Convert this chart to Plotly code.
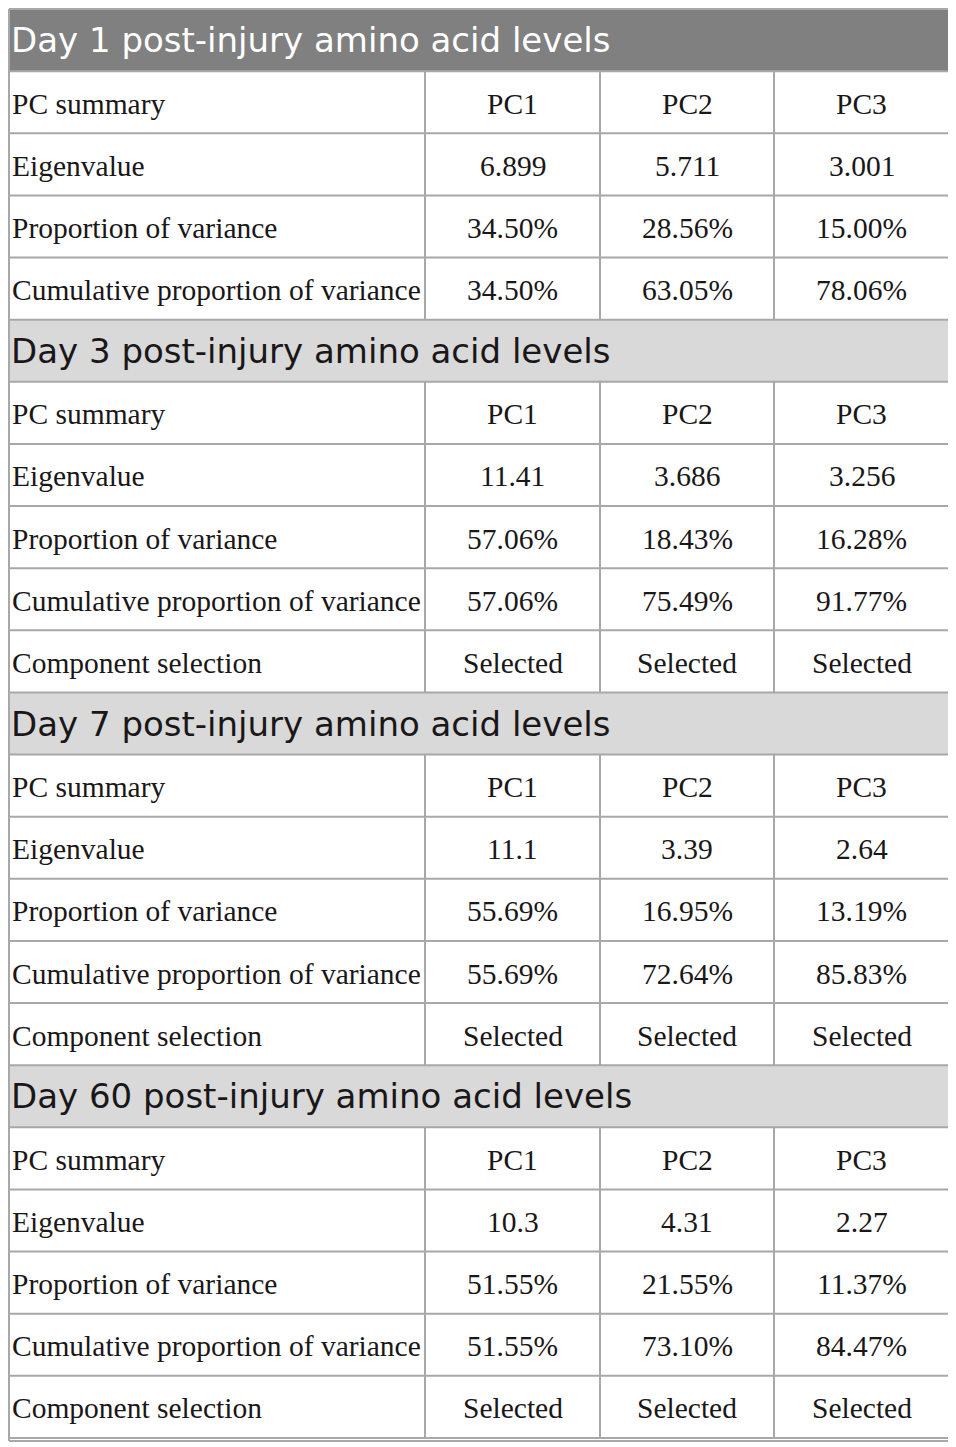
import plotly.graph_objects as go

# section titles and row labels
sections = [
    "Day 1 post-injury amino acid levels",
    "Day 3 post-injury amino acid levels",
    "Day 7 post-injury amino acid levels",
    "Day 60 post-injury amino acid levels",
]
pc_names = ["PC1", "PC2", "PC3"]

eigen_d1 = [6.899, 5.711, 3.001]
prop_d1 = [34.50, 28.56, 15.00]
cum_d1 = [34.50, 63.05, 78.06]

eigen_d3 = [11.41, 3.686, 3.256]
prop_d3 = [57.06, 18.43, 16.28]
cum_d3 = [57.06, 75.49, 91.77]

eigen_d7 = [11.1, 3.39, 2.64]
prop_d7 = [55.69, 16.95, 13.19]
cum_d7 = [55.69, 72.64, 85.83]

eigen_d60 = [10.3, 4.31, 2.27]
prop_d60 = [51.55, 21.55, 11.37]
cum_d60 = [51.55, 73.10, 84.47]

selection = ["Selected", "Selected", "Selected"]

blocks = [
    (sections[0], eigen_d1, prop_d1, cum_d1, None),
    (sections[1], eigen_d3, prop_d3, cum_d3, selection),
    (sections[2], eigen_d7, prop_d7, cum_d7, selection),
    (sections[3], eigen_d60, prop_d60, cum_d60, selection),
]

rows = []
for title, eig, prop, cum, sel in blocks:
    rows.append(("section", title, None))
    rows.append(("data", "PC summary", pc_names))
    rows.append(("data", "Eigenvalue", [str(v) for v in eig]))
    rows.append(("data", "Proportion of variance", [f"{v:.2f}%" for v in prop]))
    rows.append(("data", "Cumulative proportion of variance", [f"{v:.2f}%" for v in cum]))
    if sel:
        rows.append(("data", "Component selection", sel))

# geometry (page coordinates; the page body has an 8px margin)
W, H = 956, 1447
PAD = 8
x_edges = [9, 425, 600, 774, 949]
top, bottom = 9, 1438
row_h = (bottom - top) / len(rows)
grid = "#a8a8a8"
ink = "#1a1718"
serif = dict(family="Liberation Serif", size=29.5, color=ink)

shapes = []
annotations = []
for i, (kind, label, cells) in enumerate(rows):
    y0 = top + i * row_h
    y1 = y0 + row_h
    yc = (y0 + y1) / 2
    if kind == "section":
        dark = i == 0
        shapes.append(dict(type="rect", x0=x_edges[0], x1=x_edges[-1], y0=y0, y1=y1,
                           fillcolor="#808080" if dark else "#d9d9d9", line_width=0, layer="below"))
        annotations.append(dict(x=9, y=yc, text=label, xanchor="left", yanchor="middle",
                                showarrow=False,
                                font=dict(family="DejaVu Sans", size=34,
                                          color="#ffffff" if dark else ink)))
    else:
        annotations.append(dict(x=9.5, y=yc + 1.5, text=label, xanchor="left", yanchor="middle",
                                showarrow=False, font=serif))
        for j, txt in enumerate(cells):
            xc = (x_edges[j + 1] + x_edges[j + 2]) / 2
            annotations.append(dict(x=xc, y=yc + 1.5, text=txt, xanchor="center", yanchor="middle",
                                    showarrow=False, font=serif))
        for xe in x_edges[1:-1]:
            shapes.append(dict(type="line", x0=xe, x1=xe, y0=y0, y1=y1,
                               line=dict(color=grid, width=2)))

# horizontal rules and outer frame
for i in range(len(rows) + 1):
    yy = top + i * row_h
    shapes.append(dict(type="line", x0=x_edges[0], x1=x_edges[-1], y0=yy, y1=yy,
                       line=dict(color=grid, width=2)))
shapes.append(dict(type="line", x0=x_edges[0], x1=x_edges[-1], y0=bottom + 3, y1=bottom + 3,
                   line=dict(color=grid, width=2)))
for xe in (x_edges[0], x_edges[-1]):
    shapes.append(dict(type="line", x0=xe, x1=xe, y0=top, y1=bottom + 3,
                       line=dict(color=grid, width=2)))

fig = go.Figure()
fig.add_trace(go.Scatter(x=[PAD, W], y=[PAD, H], mode="markers", marker=dict(opacity=0),
                         hoverinfo="skip", showlegend=False))
fig.update_layout(
    width=W - PAD, height=H - PAD,
    margin=dict(l=0, r=0, t=0, b=0),
    paper_bgcolor="white", plot_bgcolor="white",
    xaxis=dict(range=[PAD, W], visible=False, fixedrange=True),
    yaxis=dict(range=[H, PAD], visible=False, fixedrange=True),
    shapes=shapes, annotations=annotations,
)

fig.write_html("out.html")
